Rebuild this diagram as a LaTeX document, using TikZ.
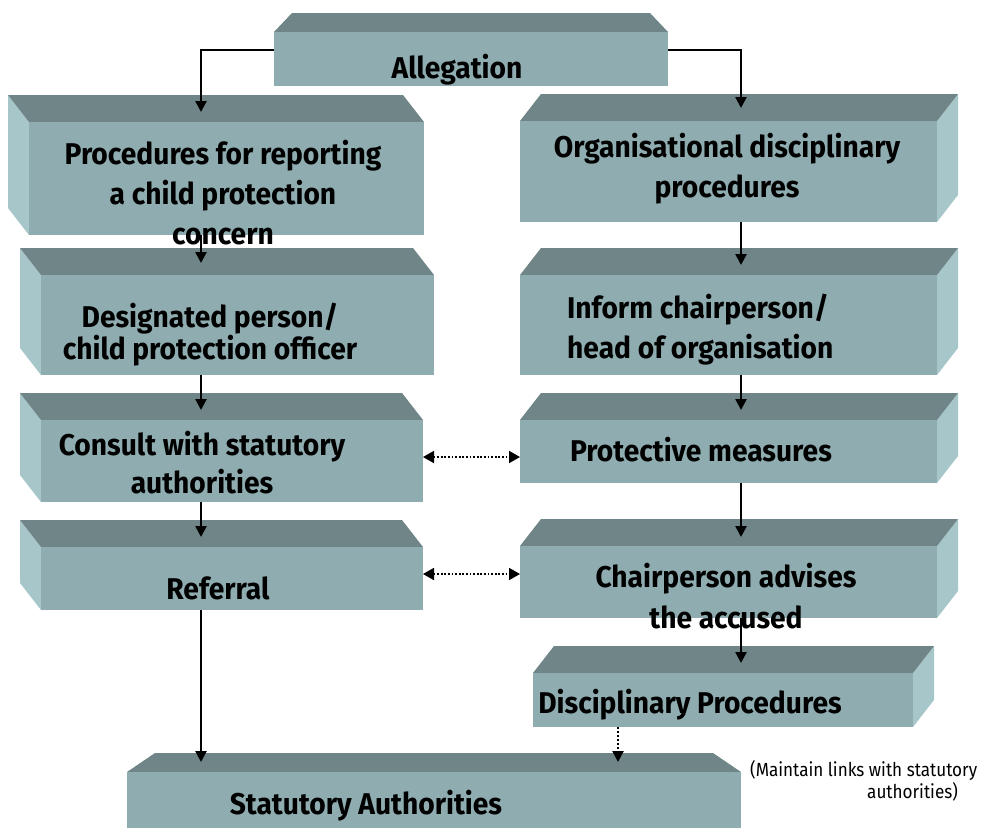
\documentclass[tikz,border=0pt]{standalone}
\usepackage{fontspec}
\setmainfont{Fira Sans}[FakeStretch=0.94]
\newfontfamily\notefont{Fira Sans}[FakeStretch=0.9]
\usetikzlibrary{arrows.meta}

\definecolor{topgrey}{HTML}{6F8587}
\definecolor{frontgrey}{HTML}{8FADB0}
\definecolor{sidegrey}{HTML}{A7C6C9}

\tikzset{
  frontface/.style={fill=frontgrey, draw=none, inner sep=0pt, outer sep=0pt, anchor=north west},
  boxtext/.style={font=\fontsize{30}{40}\selectfont\bfseries, align=center, anchor=base, inner sep=0pt},
  arr/.style={line width=2.5pt, -{Triangle[length=11pt,width=11pt]}},
  link/.style={line width=1.8pt, dash pattern=on 1.8pt off 1.8pt,
    {Triangle[length=11pt,width=12pt]}-{Triangle[length=11pt,width=12pt]}},
}

% front face: name, x1, y1, x2, y2 (pixels, y downwards)
\newcommand{\leftblock}[5]{%
  \fill[sidegrey] (#2-21,#3-27) -- (#2,#3) -- (#2,#5) -- (#2-21,#5-27) -- cycle;
  \fill[topgrey] (#2-21,#3-27) -- (#4-21,#3-27) -- (#4,#3) -- (#2,#3) -- cycle;
  \node[frontface, minimum width={(#4-#2)*1pt}, minimum height={(#5-#3)*1pt}] (#1) at (#2,#3) {};
}
\newcommand{\rightblock}[5]{%
  \fill[sidegrey] (#4+21,#3-27) -- (#4,#3) -- (#4,#5) -- (#4+21,#5-27) -- cycle;
  \fill[topgrey] (#2+21,#3-27) -- (#4+21,#3-27) -- (#4,#3) -- (#2,#3) -- cycle;
  \node[frontface, minimum width={(#4-#2)*1pt}, minimum height={(#5-#3)*1pt}] (#1) at (#2,#3) {};
}
\newcommand{\flatblock}[6]{%
  \fill[topgrey] (#2+#6,#3-19) -- (#4-#6,#3-19) -- (#4,#3) -- (#2,#3) -- cycle;
  \node[frontface, minimum width={(#4-#2)*1pt}, minimum height={(#5-#3)*1pt}] (#1) at (#2,#3) {};
}

\begin{document}
\begin{tikzpicture}[x=1pt, y=-1pt]
  \useasboundingbox (0,0) rectangle (984,833);

  % blocks
  \flatblock{alleg}{274}{32}{668}{86}{18}
  \leftblock{proc}{29}{122}{424}{235}
  \leftblock{desig}{41}{275}{434}{375}
  \leftblock{consult}{41}{420}{423}{502}
  \leftblock{referral}{41}{547}{423}{610}
  \rightblock{org}{520}{121}{937}{222}
  \rightblock{inform}{520}{275}{937}{375}
  \rightblock{protect}{520}{420}{937}{483}
  \rightblock{chair}{520}{546}{937}{618}
  \rightblock{discip}{533}{673}{913}{727}
  \flatblock{stat}{127}{772}{741}{828}{28}

  % texts (base = last line)
  \node[boxtext] (alleg-t) at (457,78) {Allegation};
  \node[boxtext] (proc-t) at (223,244) {Procedures for reporting\\a child protection\\concern};
  \node[boxtext] (desig-t) at (210,359) {Designated person/\\[-8pt]child protection officer};
  \node[boxtext] (consult-t) at (202,493) {Consult with statutory\\[-2pt]authorities};
  \node[boxtext] (referral-t) at (218,599) {Referral};
  \node[boxtext] (org-t) at (727,197) {Organisational disciplinary\\procedures};
  \node[boxtext, align=left, anchor=base west] (inform-t) at (567,358) {Inform chairperson/\\head of organisation};
  \node[boxtext] (protect-t) at (701,461) {Protective measures};
  \node[boxtext] (chair-t) at (726,628) {Chairperson advises\\[1pt]the accused};
  \node[boxtext] (discip-t) at (690,713) {Disciplinary Procedures};
  \node[boxtext] (stat-t) at (366,814) {Statutory Authorities};
  \node[font=\notefont\fontsize{19}{16}\selectfont, align=left, anchor=base west, inner sep=0pt]
    (note) at (750,798) {(Maintain links with statutory\\\hspace*{117pt}authorities)};

  % arrow ends on the top faces
  \coordinate (proc-in) at (201,112);
  \coordinate (desig-in) at (201,263);
  \coordinate (consult-in) at (201,410);
  \coordinate (referral-in) at (201,537);
  \coordinate (stat-in) at (201,762);
  \coordinate (org-in) at (741,108);
  \coordinate (inform-in) at (741,265);
  \coordinate (protect-in) at (741,410);
  \coordinate (chair-in) at (741,537);
  \coordinate (discip-in) at (741,663);
  \coordinate (stat-in2) at (618,762);
  \coordinate (linkA) at (470,457);
  \coordinate (linkB) at (470,574);

  % connectors
  \draw[arr] ([yshift=9pt]alleg.west) -| (proc-in);
  \draw[arr] ([yshift=9pt]alleg.east) -| (org-in);
  \draw[arr] (proc.south -| desig-in) -- (desig-in);
  \draw[arr] (desig.south -| consult-in) -- (consult-in);
  \draw[arr] (consult.south -| referral-in) -- (referral-in);
  \draw[arr] (referral.south -| stat-in) -- (stat-in);
  \draw[arr] (org.south -| inform-in) -- (inform-in);
  \draw[arr] (inform.south -| protect-in) -- (protect-in);
  \draw[arr] (protect.south -| chair-in) -- (chair-in);
  \draw[arr] (chair.south -| discip-in) -- (discip-in);
  \draw[arr, dash pattern=on 2pt off 2pt] (discip.south -| stat-in2) -- (stat-in2);
  \draw[link] (consult.east |- linkA) -- (protect.west |- linkA);
  \draw[link] (referral.east |- linkB) -- (chair.west |- linkB);
\end{tikzpicture}
\end{document}
